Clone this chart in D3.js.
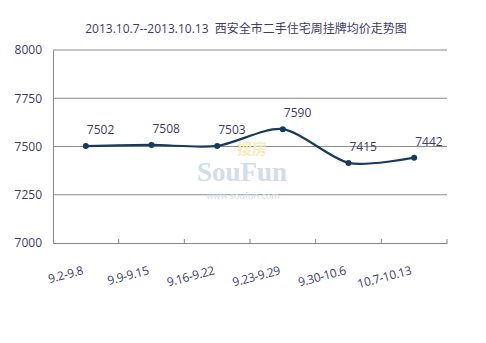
<!DOCTYPE html>
<html>
<head>
<meta charset="utf-8">
<script src="https://cdn.jsdelivr.net/npm/d3@7"></script>
<style>
  body { margin: 0; background: #fff; }
  svg text { font-family: "Open Sans", "Noto Sans CJK SC", sans-serif; }
</style>
</head>
<body>
<div id="chart"></div>
<script>
var weeks = ["9.2-9.8", "9.9-9.15", "9.16-9.22", "9.23-9.29", "9.30-10.6", "10.7-10.13"];
var prices = [7502, 7508, 7503, 7590, 7415, 7442];
var yTicks = [7000, 7250, 7500, 7750, 8000];
var title = "2013.10.7--2013.10.13\u00a0\u00a0西安全市二手住宅周挂牌均价走势图";

function init() {
    var w = 486;
    var h = 343;
    var left = 53, right = 447, top = 50, bottom = 243;
    var textColor = "#3b3b6b";

    var svg = d3.select("#chart")
            .append("svg")
            .attr("width", w)
            .attr("height", h);

    var x = d3.scaleBand()
            .domain(weeks)
            .range([left, right]);

    var y = d3.scaleLinear()
            .domain([7000, 8000])
            .range([bottom, top]);

    //title
    svg.append("text")
        .attr("x", 246)
        .attr("y", 33)
        .attr("text-anchor", "middle")
        .style("font-size", "12px")
        .style("fill", textColor)
        .text(title);

    //gridlines
    svg.selectAll("line.grid")
        .data(yTicks.filter(function(d) { return d > 7000; }))
        .enter()
        .append("line")
        .attr("class", "grid")
        .attr("x1", left)
        .attr("x2", right)
        .attr("y1", function(d) { return y(d); })
        .attr("y2", function(d) { return y(d); })
        .style("stroke", "#8a8a8a")
        .style("stroke-width", 1);

    //watermark
    var wm = svg.append("g").style("pointer-events", "none");
    wm.append("text")
        .attr("x", 252).attr("y", 154)
        .attr("text-anchor", "middle")
        .style("font-size", "15px")
        .style("font-weight", "bold")
        .style("fill", "#f6ecbc")
        .text("搜房");
    wm.append("text")
        .attr("x", 242).attr("y", 181)
        .attr("text-anchor", "middle")
        .style("font-family", "'Liberation Serif', serif")
        .style("font-size", "27px")
        .style("font-weight", "bold")
        .style("fill", "#d3dcea")
        .text("SouFun");
    wm.append("text")
        .attr("x", 243).attr("y", 199)
        .attr("text-anchor", "middle")
        .style("font-size", "9px")
        .style("fill", "#d3dcea")
        .text("www.soufun.com");

    //y axis
    var yAxis = d3.axisLeft(y)
            .tickValues(yTicks)
            .tickFormat(d3.format("d"))
            .tickSize(0)
            .tickPadding(11);
    var gy = svg.append("g")
        .attr("transform", "translate(" + left + ",0)")
        .call(yAxis);
    gy.select(".domain").style("stroke", "#868686");
    gy.selectAll("text")
        .style("font-size", "12px")
        .style("font-family", "'Open Sans', sans-serif")
        .style("fill", textColor);

    //x axis with inside ticks at band edges
    var xAxis = d3.axisBottom(x).tickSize(0).tickFormat("");
    var gx = svg.append("g")
        .attr("transform", "translate(0," + bottom + ")")
        .call(xAxis);
    gx.select(".domain").style("stroke", "#868686");
    gx.selectAll(".tick").remove();

    svg.selectAll("line.xtick")
        .data(weeks)
        .enter()
        .append("line")
        .attr("class", "xtick")
        .attr("x1", function(d) { return x(d) + x.bandwidth(); })
        .attr("x2", function(d) { return x(d) + x.bandwidth(); })
        .attr("y1", bottom)
        .attr("y2", bottom - 4)
        .style("stroke", "#868686");

    //rotated category labels
    svg.selectAll("text.xlab")
        .data(weeks)
        .enter()
        .append("text")
        .attr("class", "xlab")
        .attr("text-anchor", "end")
        .attr("transform", function(d) {
            var cx = x(d) + x.bandwidth() / 2 - 2;
            return "translate(" + cx + "," + 274 + ") rotate(-15)";
        })
        .style("font-size", "12px")
        .style("letter-spacing", "-0.3px")
        .style("fill", textColor)
        .text(function(d) { return d; });

    //smoothed price line
    var line = d3.line()
            .x(function(d, i) { return x(weeks[i]) + x.bandwidth() / 2; })
            .y(function(d) { return y(d); })
            .curve(d3.curveCardinal.tension(0.2));

    svg.append("path")
        .datum(prices)
        .attr("d", line)
        .style("fill", "none")
        .style("stroke", "#183a5a")
        .style("stroke-width", 2.2);

    svg.selectAll("circle")
        .data(prices)
        .enter()
        .append("circle")
        .attr("cx", function(d, i) { return x(weeks[i]) + x.bandwidth() / 2; })
        .attr("cy", function(d) { return y(d); })
        .attr("r", 3)
        .style("fill", "#183a5a");

    //value labels
    svg.selectAll("text.val")
        .data(prices)
        .enter()
        .append("text")
        .attr("class", "val")
        .attr("x", function(d, i) { return x(weeks[i]) + x.bandwidth() / 2 + 1; })
        .attr("y", function(d) { return y(d) - 12; })
        .style("font-size", "12px")
        .style("fill", textColor)
        .text(function(d) { return d; });
}

window.onload = init;
</script>
</body>
</html>
